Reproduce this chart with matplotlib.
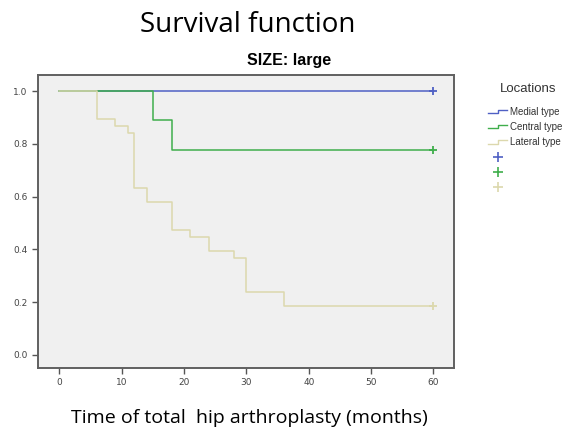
import matplotlib
matplotlib.use("Agg")
import matplotlib.pyplot as plt
from matplotlib.lines import Line2D
from matplotlib.legend_handler import HandlerBase

# Kaplan-Meier step data
medial_t = [0, 60]
medial_s = [1.0, 1.0]

central_t = [0, 15, 18, 60]
central_s = [1.0, 0.889, 0.778, 0.778]

lateral_t = [0, 6, 9, 11, 12, 14, 18, 21, 24, 28, 30, 36, 60]
lateral_s = [1.0, 0.895, 0.868, 0.842, 0.632, 0.579, 0.474, 0.447,
             0.395, 0.368, 0.237, 0.184, 0.184]

group_names = ["Medial type", "Central type", "Lateral type"]
group_colors = ["#4f60c4", "#3fae4c", "#dcd8ad"]
x_ticks = [0, 10, 20, 30, 40, 50, 60]
y_ticks = [0.0, 0.2, 0.4, 0.6, 0.8, 1.0]


class StepHandler(HandlerBase):
    # little step icon like the SPSS legend
    def create_artists(self, legend, orig, xd, yd, w, h, fs, trans):
        lo, hi = yd + h * 0.25, yd + h * 0.8
        xs = [xd, xd + w * 0.5, xd + w * 0.5, xd + w]
        ys = [lo, lo, hi, hi]
        ln = Line2D(xs, ys, color=orig.get_color(), lw=1, transform=trans)
        return [ln]


fig = plt.figure(figsize=(5.69, 4.32), dpi=100)
ax = fig.add_axes((0.067, 0.148, 0.731, 0.678))
ax.set_facecolor("#f0f0f0")

series = [(medial_t, medial_s), (central_t, central_s), (lateral_t, lateral_s)]
for (t, s), c in zip(series, group_colors):
    ax.step(t, s, where="post", color=c, lw=1.1)
    # censored marker at the end of follow-up
    ax.plot(t[-1], s[-1], marker="+", color=c, ms=6, mew=1.3)

ax.set_xlim(-3.4, 63.3)
ax.set_ylim(-0.05, 1.06)
ax.set_xticks(x_ticks)
ax.set_xticklabels([str(v) for v in x_ticks])
ax.set_yticks(y_ticks)
ax.set_yticklabels([f"{v:.1f}" for v in y_ticks])
ax.tick_params(labelsize=6.5, labelcolor="#444444", color="#555555",
               length=4, width=1, direction="out")
for sp in ax.spines.values():
    sp.set_color("#606060")
    sp.set_linewidth(1.4)

fig.text(0.435, 0.943, "Survival function", ha="center", va="center",
         fontsize=20, family="Open Sans")
fig.text(0.508, 0.861, "SIZE: large", ha="center", va="center",
         fontsize=11.5, fontweight="bold", family="Liberation Sans")
fig.text(0.4385, 0.033, "Time of total  hip arthroplasty (months)",
         ha="center", va="center", fontsize=14, family="Open Sans")

fig.text(0.928, 0.794, "Locations", ha="center", va="center",
         fontsize=9.5, family="Liberation Sans", color="#333333")

step_handles = [Line2D([], [], color=c, lw=1) for c in group_colors]
plus_handles = [Line2D([], [], color=c, lw=0, marker="+", ms=7, mew=1.2)
                for c in group_colors]
handler_map = {h: StepHandler() for h in step_handles}
leg = fig.legend(step_handles + plus_handles, group_names + ["", "", ""],
                 loc="upper left", bbox_to_anchor=(0.858, 0.752),
                 frameon=False, borderpad=0, borderaxespad=0,
                 prop={"family": "Liberation Sans", "size": 7},
                 handlelength=1.95, handletextpad=0.3, labelspacing=0.52,
                 handler_map=handler_map)
for txt in leg.get_texts():
    txt.set_color("#333333")

fig.savefig("out.png", dpi=100)
